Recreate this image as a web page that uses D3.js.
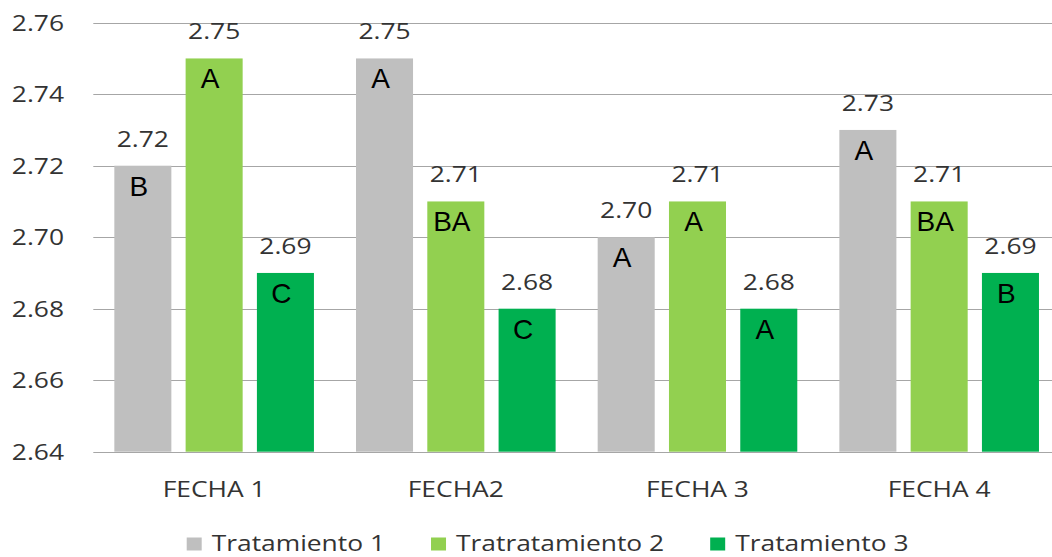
<!DOCTYPE html>
<html>
<head>
<meta charset="utf-8">
<script src="https://cdn.jsdelivr.net/npm/d3@7"></script>
<style>
  html, body { margin: 0; padding: 0; background: #fff; }
  svg { display: block; }
</style>
</head>
<body>
<svg id="chart" width="1052" height="557"></svg>
<script>
// ---- data ----
const categories = ["FECHA 1", "FECHA2", "FECHA 3", "FECHA 4"];
const seriesNames = ["Tratamiento 1", "Tratratamiento 2", "Tratamiento 3"];
const tratamiento1 = [2.72, 2.75, 2.70, 2.73];
const tratamiento2 = [2.75, 2.71, 2.71, 2.71];
const tratamiento3 = [2.69, 2.68, 2.68, 2.69];
const letters1 = ["B", "A", "A", "A"];
const letters2 = ["A", "BA", "A", "BA"];
const letters3 = ["C", "C", "A", "B"];
const yTicks = [2.64, 2.66, 2.68, 2.70, 2.72, 2.74, 2.76];
const colors = ["#BFBFBF", "#92D050", "#00B050"];

const seriesValues = [tratamiento1, tratamiento2, tratamiento3];
const seriesLetters = [letters1, letters2, letters3];

// ---- layout ----
const svg = d3.select("#chart");
const plotLeft = 93.3, plotRight = 1060, plotTop = 22.7, plotBottom = 451.7;
const STRETCH = 1.2;
const textFont = "'Open Sans', sans-serif";
const textColor = "#333333";

const x0 = d3.scaleBand().domain(categories).range([plotLeft, plotRight]).padding(0);
const x1 = d3.scaleBand().domain(seriesNames).range([0, x0.bandwidth()])
  .paddingInner(0.2).paddingOuter(0.295);
const y = d3.scaleLinear().domain([2.64, 2.76]).range([plotBottom, plotTop]);

function stretchedText(g, x, yPos, txt, anchor, size) {
  return g.append("text")
    .attr("transform", `translate(${x},${yPos}) scale(${STRETCH},1)`)
    .attr("text-anchor", anchor)
    .attr("font-family", textFont)
    .attr("font-size", size)
    .attr("fill", textColor)
    .text(txt);
}

// gridlines
const grid = svg.append("g");
grid.selectAll("line").data(yTicks).join("line")
  .attr("x1", plotLeft).attr("x2", plotRight)
  .attr("y1", d => Math.round(y(d)) + 0.5).attr("y2", d => Math.round(y(d)) + 0.5)
  .attr("stroke", "#A6A6A6").attr("stroke-width", 1);

// y tick labels
const yLab = svg.append("g");
yTicks.forEach(t => stretchedText(yLab, 64, y(t) + 8, d3.format(".2f")(t), "end", 22));

// bars
const barData = [];
categories.forEach((c, ci) => {
  seriesNames.forEach((s, si) => {
    barData.push({ cat: c, ser: s, si, value: seriesValues[si][ci], letter: seriesLetters[si][ci] });
  });
});

svg.append("g").selectAll("rect").data(barData).join("rect")
  .attr("x", d => x0(d.cat) + x1(d.ser))
  .attr("y", d => y(d.value))
  .attr("width", x1.bandwidth())
  .attr("height", d => plotBottom - y(d.value))
  .attr("fill", d => colors[d.si]);

// value labels
const vl = svg.append("g");
barData.forEach(d => {
  stretchedText(vl, x0(d.cat) + x1(d.ser) + x1.bandwidth() / 2, y(d.value) - 19,
    d3.format(".2f")(d.value), "middle", 22);
});

// letter labels
svg.append("g").selectAll("text").data(barData).join("text")
  .attr("x", d => x0(d.cat) + x1(d.ser) + x1.bandwidth() / 2 - 4)
  .attr("y", d => y(d.value) + 30)
  .attr("text-anchor", "middle")
  .attr("font-family", "'Liberation Sans', Arial, sans-serif")
  .attr("font-size", 28)
  .attr("fill", "#000")
  .text(d => d.letter);

// x category labels
const xl = svg.append("g");
categories.forEach(c => stretchedText(xl, x0(c) + x0.bandwidth() / 2, 496.5, c, "middle", 22));

// legend
const lg = svg.append("g");
let lx = 186.7;
seriesNames.forEach((s, i) => {
  lg.append("rect").attr("x", lx).attr("y", 537.5).attr("width", 15).attr("height", 13)
    .attr("fill", colors[i]);
  const t = stretchedText(lg, lx + 25, 550.5, s, "start", 22);
  const w = t.node().getComputedTextLength() * STRETCH;
  lx = lx + 25 + w + 46;
});
</script>
</body>
</html>
